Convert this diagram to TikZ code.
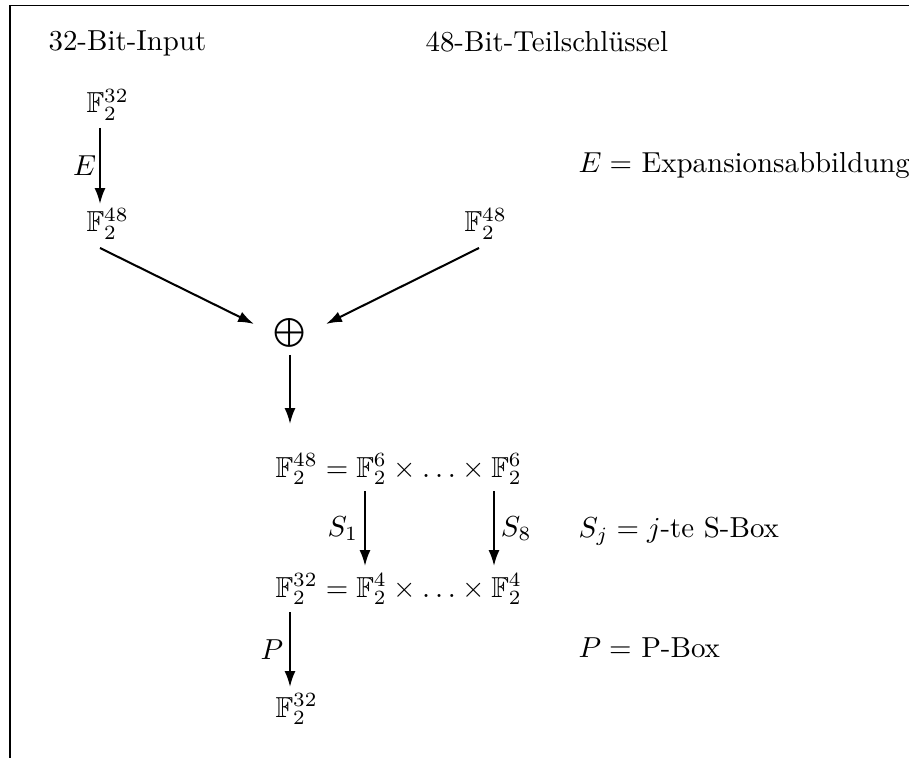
\documentclass[tikz,border=0pt]{standalone}
\usepackage{amsmath,amssymb}
\usetikzlibrary{arrows.meta}
\tikzset{
  arr/.style={line width=0.7pt,-{Latex[length=5.5pt,width=3.8pt]}},
  txt/.style={inner sep=0pt,anchor=base west},
  lbl/.style={inner sep=0pt}
}
\begin{document}
\begin{tikzpicture}[x=0.346pt,y=-0.346pt]
\useasboundingbox (0,0) rectangle (909,758);
\draw[line width=0.5pt] (909,5.5) -- (10,5.5) -- (10,758);
% headings
\node[txt] (hin) at (48,51) {32-Bit-Input};
\node[txt] (hkey) at (425,52) {48-Bit-Teilschl\"ussel};
% left column
\node[txt] (f32a) at (86,113) {$\mathbb{F}_2^{32}$};
\node[txt] (f48a) at (86,232) {$\mathbb{F}_2^{48}$};
\node[txt] (f48b) at (464,232) {$\mathbb{F}_2^{48}$};
\node[lbl] (xor) at (290,333) {$\bigoplus$};
% rows
\node[txt] (row1) at (275,477) {$\mathbb{F}_2^{48} = \mathbb{F}_2^6 \times \ldots \times \mathbb{F}_2^6$};
\node[txt] (row2) at (275,597) {$\mathbb{F}_2^{32} = \mathbb{F}_2^4 \times \ldots \times \mathbb{F}_2^4$};
\node[txt] (f32b) at (275,717) {$\mathbb{F}_2^{32}$};
% legends
\node[txt] (legE) at (578,173) {$E = $ Expansionsabbildung};
\node[txt] (legS) at (578,537) {$S_j = j$-te S-Box};
\node[txt] (legP) at (578,657) {$P = $ P-Box};
% arrow coordinates
\coordinate (e1) at (100,128);
\coordinate (e2) at (100,204);
\coordinate (d1) at (100,248);
\coordinate (d2) at (254,324);
\coordinate (d3) at (479,248);
\coordinate (d4) at (326,324);
\coordinate (x1) at (290,355);
\coordinate (x2) at (290,424);
\coordinate (s1a) at (365,491);
\coordinate (s1b) at (365,566);
\coordinate (s8a) at (494,491);
\coordinate (s8b) at (494,566);
\coordinate (p1) at (290,612);
\coordinate (p2) at (290,687);
\draw[arr] (e1) -- node[left=1pt,lbl] {$E$} (e2);
\draw[arr] (d1) -- (d2);
\draw[arr] (d3) -- (d4);
\draw[arr] (x1) -- (x2);
\draw[arr] (s1a) -- node[left=2pt,lbl] {$S_1$} (s1b);
\draw[arr] (s8a) -- node[right=2pt,lbl] {$S_8$} (s8b);
\draw[arr] (p1) -- node[left=2pt,lbl] {$P$} (p2);
\end{tikzpicture}
\end{document}
